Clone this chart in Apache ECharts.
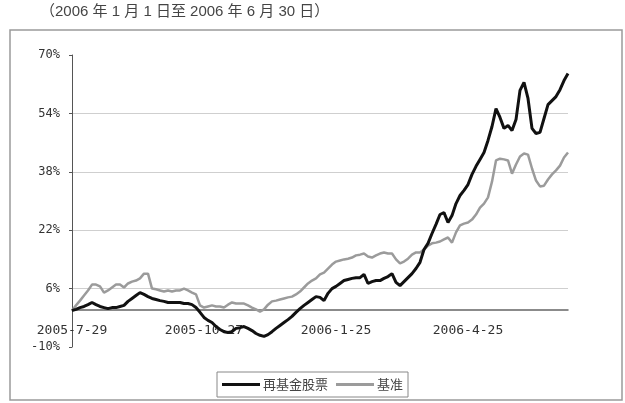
<!DOCTYPE html>
<html>
<head>
<meta charset="utf-8">
<script src="https://cdn.jsdelivr.net/npm/echarts@6/dist/echarts.min.js"></script>
<style>
html,body{margin:0;padding:0;background:#fff;}
#c{width:625px;height:403px;}
</style>
</head>
<body>
<div id="c"></div>
<script>
var titleText = '（2006 年 1 月 1 日至 2006 年 6 月 30 日）';
var seriesNames = ['再基金股票', '基准'];
var tickLabels = ['2005-7-29', '2005-10-27', '2006-1-25', '2006-4-25'];
var tickIndex = [0, 33, 66, 99];
var yTicks = [-10, 6, 22, 38, 54, 70];

var fund = [
 0, 0.3, 0.8, 1.1, 1.6, 2.2, 1.6, 1.1, 0.8, 0.5,
 0.8, 0.8, 1.1, 1.4, 2.5, 3.3, 4.1, 4.9, 4.4, 3.8,
 3.3, 3.0, 2.7, 2.5, 2.2, 2.2, 2.2, 2.2, 1.9, 1.9,
 1.6, 0.8, -0.5, -1.9, -2.7, -3.3, -4.4, -5.2, -5.8, -6.0,
 -5.8, -4.9, -4.7, -4.4, -4.9, -5.5, -6.3, -6.8, -7.1, -6.6,
 -5.8, -4.9, -4.1, -3.3, -2.5, -1.6, -0.5, 0.5, 1.4, 2.2,
 3.0, 3.8, 3.6, 2.7, 4.7, 6.0, 6.6, 7.4, 8.2, 8.5,
 8.8, 9.0, 9.0, 9.9, 7.4, 7.9, 8.2, 8.2, 8.8, 9.3,
 10.1, 7.7, 6.8, 7.9, 9.0, 10.1, 11.5, 13.2, 16.7, 18.4,
 21.1, 23.6, 26.3, 26.8, 24.1, 26.0, 29.3, 31.5, 32.9, 34.5,
 37.3, 39.5, 41.4, 43.3, 46.6, 50.4, 55.3, 52.9, 49.9, 50.7,
 49.3, 52.3, 60.3, 62.5, 58.1, 49.9, 48.5, 48.8, 52.6, 56.4,
 57.5, 58.6, 60.5, 63.0, 64.9
];
var bench = [
 0, 1.4, 2.7, 4.1, 5.5, 7.1, 7.1, 6.6, 4.9, 5.5,
 6.3, 7.1, 7.1, 6.3, 7.4, 7.9, 8.2, 8.8, 10.1, 10.1,
 6.0, 5.8, 5.5, 5.2, 5.5, 5.2, 5.5, 5.5, 6.0, 5.5,
 4.9, 4.4, 1.4, 0.8, 1.1, 1.4, 1.1, 1.1, 0.8, 1.6,
 2.2, 1.9, 1.9, 1.9, 1.4, 0.8, 0.3, -0.3, 0.3, 1.6,
 2.5, 2.7, 3.0, 3.3, 3.6, 3.8, 4.4, 5.2, 6.3, 7.4,
 8.2, 8.8, 9.9, 10.4, 11.5, 12.6, 13.4, 13.7, 14.0, 14.2,
 14.5, 15.1, 15.3, 15.6, 14.8, 14.5, 15.1, 15.6, 15.9, 15.6,
 15.6, 14.0, 12.9, 13.4, 14.2, 15.3, 15.9, 15.9, 16.7, 17.8,
 18.4, 18.6, 18.9, 19.5, 20.0, 18.6, 21.4, 23.3, 23.8, 24.1,
 24.9, 26.3, 28.2, 29.3, 31.0, 35.3, 41.1, 41.6, 41.4, 41.1,
 37.5, 40.0, 42.2, 43.0, 42.7, 38.9, 35.6, 34.0, 34.2, 35.9,
 37.3, 38.4, 39.7, 41.9, 43.3
];

var categories = fund.map(function (v, i) {
  var k = tickIndex.indexOf(i);
  return k >= 0 ? tickLabels[k] : '';
});

var gridTop = 55, gridBottom = 56, H = 403;
var gridHeight = H - gridTop - gridBottom;
var yMin = yTicks[0], yMax = yTicks[yTicks.length - 1];
var zeroOffset = -Math.round((0 - yMin) / (yMax - yMin) * gridHeight);

var chart = echarts.init(document.getElementById('c'));
chart.setOption({
  backgroundColor: '#fff',
  animation: false,
  graphic: [
    {type: 'text', left: 40, top: 4,
     style: {text: titleText, font: '15px "Liberation Sans", "Noto Sans CJK SC", sans-serif', fill: '#444'}},
    {type: 'rect', shape: {x: 10, y: 30, width: 612, height: 370},
     style: {fill: 'none', stroke: '#9a9a9a', lineWidth: 1.5}, z: -1}
  ],
  grid: {left: 72, right: 57, top: gridTop, bottom: gridBottom},
  legend: {
    data: seriesNames,
    left: 217, top: 372,
    orient: 'horizontal',
    icon: 'rect',
    itemWidth: 38, itemHeight: 3,
    itemGap: 8,
    padding: [6, 5, 6, 5],
    borderColor: '#888', borderWidth: 1,
    textStyle: {fontSize: 13, color: '#444', fontFamily: '"Noto Sans CJK SC", sans-serif', padding: [0, 0, 0, -2]}
  },
  xAxis: {
    type: 'category',
    data: categories,
    boundaryGap: false,
    offset: zeroOffset,
    axisLine: {onZero: false, lineStyle: {color: '#666', width: 1.5}},
    axisTick: {show: false},
    axisLabel: {
      interval: function (i) { return tickIndex.indexOf(i) >= 0; },
      margin: 14,
      color: '#333',
      fontSize: 13,
      fontFamily: '"DejaVu Sans Mono", monospace'
    },
    splitLine: {show: false}
  },
  yAxis: {
    type: 'value',
    min: yMin,
    max: yMax,
    interval: yTicks[1] - yTicks[0],
    axisLine: {show: true, lineStyle: {color: '#555', width: 1}},
    axisTick: {show: true, length: 3, lineStyle: {color: '#555'}},
    axisLabel: {
      formatter: '{value}%',
      margin: 12,
      color: '#333',
      fontSize: 12,
      fontFamily: '"DejaVu Sans Mono", monospace'
    },
    splitLine: {show: true, showMinLine: false, showMaxLine: false, lineStyle: {color: '#cfcfcf', width: 1.2}}
  },
  series: [
    {name: seriesNames[0], type: 'line', data: fund, symbol: 'none', z: 3,
     lineStyle: {color: '#111', width: 3}, itemStyle: {color: '#111'}},
    {name: seriesNames[1], type: 'line', data: bench, symbol: 'none', z: 2,
     lineStyle: {color: '#9b9b9b', width: 2.5}, itemStyle: {color: '#9b9b9b'}}
  ]
});
</script>
</body>
</html>
